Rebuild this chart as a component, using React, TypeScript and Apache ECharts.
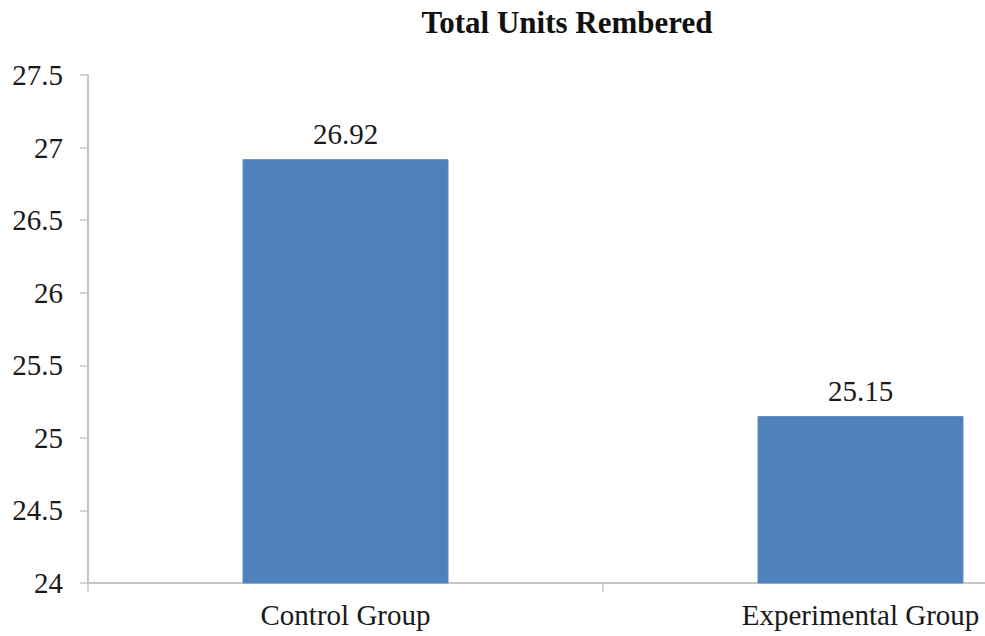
import React, { useEffect, useRef } from "react";
import * as echarts from "echarts";

const categories = ["Control Group", "Experimental Group"];
const unitsRemembered = [26.92, 25.15];
const yMin = 24;
const yMax = 27.5;
const yStep = 0.5;

const SERIF = "Liberation Serif, Times New Roman, serif";

export default function App() {
  const ref = useRef<HTMLDivElement>(null);

  useEffect(() => {
    if (!ref.current) return;
    const chart = echarts.init(ref.current, undefined, { renderer: "svg" });
    chart.setOption({
      animation: false,
      backgroundColor: "#ffffff",
      textStyle: { fontFamily: SERIF },
      title: {
        text: "Total Units Rembered",
        left: 562,
        top: 2,
        textAlign: "center",
        textStyle: {
          fontFamily: SERIF,
          fontWeight: "bold",
          fontSize: 31,
          color: "#111111",
        },
      },
      // the plot runs past the right edge of the canvas, so the second
      // category sits partly outside the visible area
      grid: {
        left: 88,
        top: 75,
        bottom: 53,
        width: 1030,
        outerBoundsMode: "none",
        containLabel: false,
      },
      xAxis: {
        type: "category",
        data: categories,
        axisLine: { lineStyle: { color: "#c6c6c6", width: 2 } },
        axisTick: {
          show: true,
          alignWithLabel: false,
          length: 9,
          lineStyle: { color: "#c6c6c6", width: 1.5 },
        },
        axisLabel: {
          fontFamily: SERIF,
          fontSize: 29,
          color: "#1a1a1a",
          margin: 17,
        },
      },
      yAxis: {
        type: "value",
        min: yMin,
        max: yMax,
        interval: yStep,
        axisLine: { show: true, lineStyle: { color: "#c6c6c6", width: 2 } },
        axisTick: {
          show: true,
          length: 8,
          lineStyle: { color: "#c6c6c6", width: 1.5 },
        },
        splitLine: { show: false },
        axisLabel: {
          fontFamily: SERIF,
          fontSize: 29,
          color: "#1a1a1a",
          margin: 25,
        },
      },
      series: [
        {
          type: "bar",
          data: unitsRemembered,
          barWidth: "40%",
          itemStyle: { color: "#4F81BD", borderColor: "#5a8cc6", borderWidth: 1 },
          label: {
            show: true,
            position: "top",
            distance: 11,
            fontFamily: SERIF,
            fontSize: 29,
            color: "#1a1a1a",
            formatter: (p: any) => p.value.toFixed(2),
          },
        },
      ],
    });
    return () => chart.dispose();
  }, []);

  return (
    <div
      ref={ref}
      style={{ position: "fixed", left: 0, top: 0, width: 985, height: 636 }}
    />
  );
}
